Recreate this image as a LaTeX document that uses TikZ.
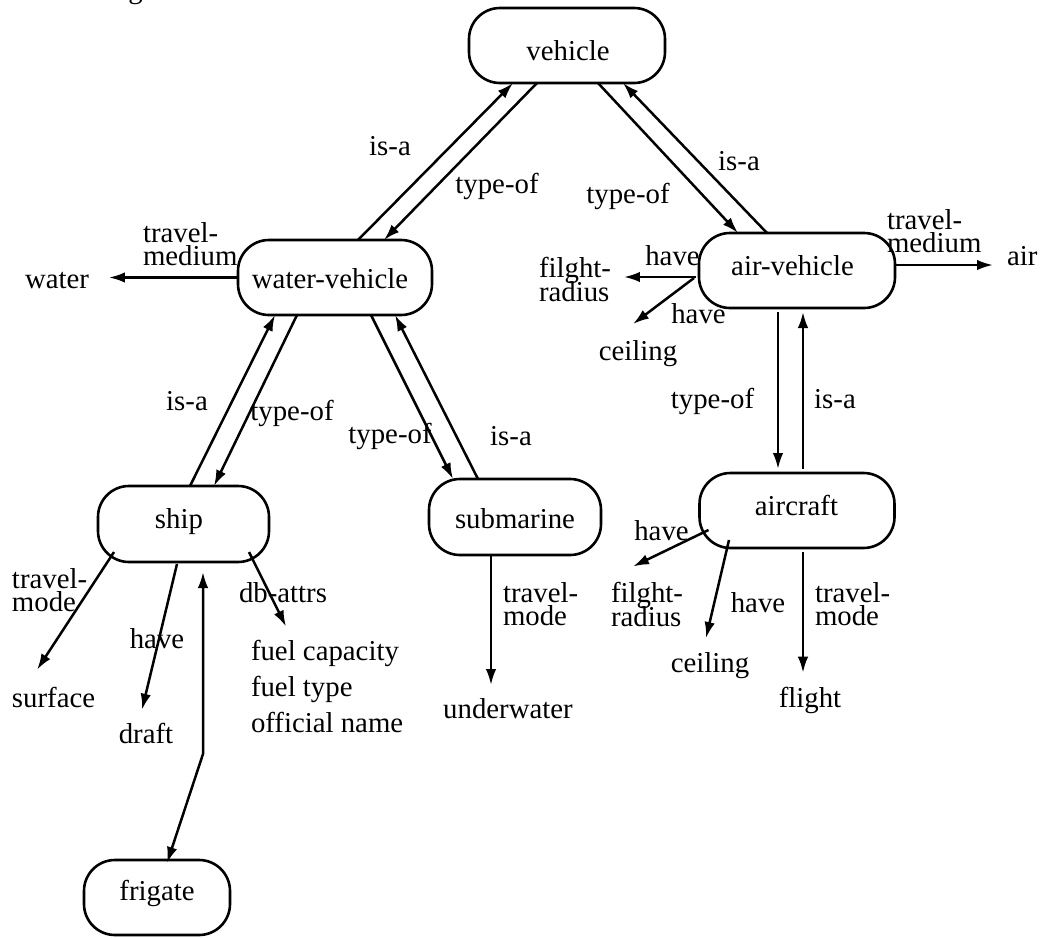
\documentclass[tikz,border=0pt]{standalone}
\usepackage{fontspec}
\setmainfont{Liberation Serif}
\usetikzlibrary{arrows.meta,calc}

\begin{document}
\begin{tikzpicture}[x=1pt,y=-1pt,
  every node/.style={font={\fontsize{28.8}{23.5}\selectfont\lineskiplimit=-100pt},
                     inner sep=0pt, outer sep=0pt},
  box/.style={draw, line width=2.6pt, rounded corners=31pt, minimum height=75pt},
  lbl/.style={anchor=base},
  multi/.style={anchor=north west, align=left},
  arr/.style={line width=2.5pt, -{Latex[length=16pt,width=10.5pt]}}]

\useasboundingbox (0,0) rectangle (1044,937);
\clip (0,0) rectangle (1044,937);

% caption text running above the top edge
\node[lbl] (caption-g) at (135.5,-1.5) {g};

% concept boxes
\node[box, minimum width=196pt] (vehicle) at (567,45.5) {};
\node[box, minimum width=194pt] (wv)      at (335,277.5) {};
\node[box, minimum width=196pt] (av)      at (797,270.5) {};
\node[box, minimum width=171pt, minimum height=76pt] (ship) at (183.5,524) {};
\node[box, minimum width=172pt, minimum height=76pt] (sub)  at (515,517) {};
\node[box, minimum width=195pt] (ac)      at (797,510.5) {};
\node[box, minimum width=146pt] (fr)      at (157,897.5) {};

% box names
\node[lbl] (vehicle-t) at (568,60)    {vehicle};
\node[lbl] (wv-t)      at (330,288)   {water-vehicle};
\node[lbl] (av-t)      at (792.5,275) {air-vehicle};
\node[lbl] (ship-t)    at (179,528)   {ship};
\node[lbl] (sub-t)     at (515,528)   {submarine};
\node[lbl] (ac-t)      at (796.5,515) {aircraft};
\node[lbl] (fr-t)      at (157,900)   {frigate};

% attribute values
\node[anchor=base west] (water)   at (25,288)   {water};
\node[anchor=base west] (air)     at (1007,265) {air};
\node[multi] (radius1)            at (539,257.5) {filght-\\radius};
\node[lbl] (ceil1)                at (638,360)  {ceiling};
\node[anchor=base west] (surface) at (12,707)   {surface};
\node[lbl] (draft)                at (146,743)  {draft};
\node[multi, font=\fontsize{28.8}{36}\selectfont] (fuel) at (251,640.5)
  {fuel capacity\\fuel type\\official name};
\node[lbl] (uw)                   at (508,718)  {underwater};
\node[multi] (radius2)            at (611,582.5) {filght-\\radius};
\node[lbl] (ceil2)                at (710,672)  {ceiling};
\node[lbl] (flight)               at (810,707)  {flight};

% relation labels
\node[lbl] (l-isa1)  at (390,155)   {is-a};
\node[lbl] (l-typ1)  at (497,193)   {type-of};
\node[lbl] (l-typ2)  at (628,203)   {type-of};
\node[lbl] (l-isa2)  at (739,170)   {is-a};
\node[multi] (l-med1) at (143,222.5) {travel-\\medium};
\node[multi] (l-med2) at (887,209.5) {travel-\\medium};
\node[lbl] (l-isa3)  at (187,410)   {is-a};
\node[lbl] (l-typ3)  at (292,420)   {type-of};
\node[lbl] (l-typ4)  at (390,443)   {type-of};
\node[lbl] (l-isa4)  at (511,445)   {is-a};
\node[lbl] (l-typ5)  at (712.5,408) {type-of};
\node[lbl] (l-isa5)  at (835,408)   {is-a};
\node[lbl] (l-have1) at (672.5,265) {have};
\node[lbl] (l-have2) at (698.5,323) {have};
\node[multi] (l-mode1) at (12,568.5)  {travel-\\mode};
\node[lbl] (l-have3) at (157,648)   {have};
\node[anchor=base west] (l-db) at (239,602) {db-attrs};
\node[multi] (l-mode2) at (503,582.5) {travel-\\mode};
\node[lbl] (l-have4) at (661.5,540) {have};
\node[lbl] (l-have5) at (758,612)   {have};
\node[multi] (l-mode3) at (815,582.5) {travel-\\mode};

% is-a / type-of links
\draw[arr] ($(wv.north)+(23,0)$)       -- ($(vehicle.south)+(-54,0)$);
\draw[arr] ($(vehicle.south)+(-30,0)$) -- ($(wv.north)+(49,0)$);
\draw[arr] ($(vehicle.south)+(31,0)$)  -- ($(av.north)+(-59,0)$);
\draw[arr] ($(av.north)+(-30,0)$)      -- ($(vehicle.south)+(56,0)$);
\draw[arr] ($(ship.north)+(6.5,0)$)    -- ($(wv.south)+(-60,0)$);
\draw[arr] ($(wv.south)+(-38,0)$)      -- ($(ship.north)+(30.5,0)$);
\draw[arr] ($(wv.south)+(36,0)$)       -- ($(sub.north)+(-62,0)$);
\draw[arr] ($(sub.north)+(-37,0)$)     -- ($(wv.south)+(60,0)$);
\draw[arr] ($(av.south)+(-19,4)$)      -- ($(ac.north)+(-19,-4)$);
\draw[arr] ($(ac.north)+(6,-4)$)       -- ($(av.south)+(6,4)$);

% attribute links
\draw[arr] (wv.west) -- ($(water.east |- wv.west)+(20,0)$);
\draw[arr] ($(av.east)+(0,-5.5)$) -- ($(air.west |- av.east)+(-14,-5.5)$);
\draw[arr] ($(av.west)+(-3,6.5)$) -- ($(radius1.east |- av.west)+(13,6.5)$);
\draw[arr] ($(av.west)+(-5,7.5)$) -- ($(ceil1.north)+(-5,-16)$);
\draw[arr] ($(ship.south west)+(16,-10)$) -- ($(surface.north)+(-16.5,-17)$);
\draw[arr] ($(ship.south)+(-6.5,2)$) -- ($(draft.north)+(-4,-13)$);
\draw[arr] ($(ship.south east)+(-20,-10)$) -- ($(fuel.north west)+(35,-14)$);
\draw[line width=2.5pt, {Latex[length=16pt,width=10.5pt]}-{Latex[length=16pt,width=10.5pt]}]
  ($(ship.south)+(19.5,10)$) -- ($(ship.south)+(19.5,192)$) -- ($(fr.north)+(10,3)$);
\draw[arr] ($(sub.south)+(-24,0)$) -- ($(uw.north)+(-17,-13)$);
\draw[arr] ($(ac.west)+(9,19.5)$) -- ($(radius2.north west)+(22,-16)$);
\draw[arr] ($(ac.south)+(-68,-8)$) -- ($(ceil2.north)+(-4,-14)$);
\draw[arr] ($(ac.south)+(6,4)$) -- ($(flight.north)+(-7,-14)$);

\end{tikzpicture}
\end{document}
